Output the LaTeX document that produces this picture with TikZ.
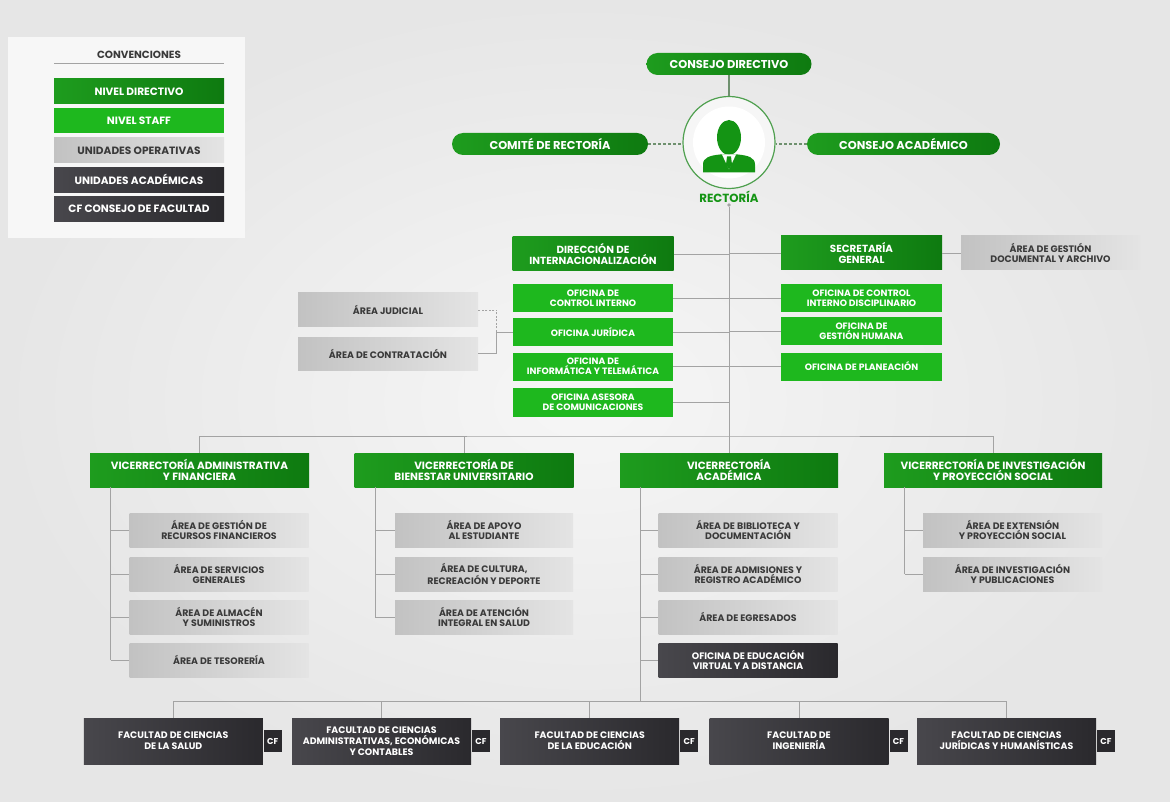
\documentclass[tikz,border=0pt]{standalone}
\usepackage{fontspec}
\setmainfont{Poppins}
\usetikzlibrary{positioning,shadings}

\definecolor{bgin}{HTML}{F6F6F6}
\definecolor{bgout}{HTML}{E6E6E6}
\definecolor{panel}{HTML}{F7F7F7}
\definecolor{dgreenL}{HTML}{1E9C1E}
\definecolor{dgreenR}{HTML}{0E7A10}
\definecolor{sgreen}{HTML}{1EB81E}
\definecolor{opL}{HTML}{C2C2C2}
\definecolor{opR}{HTML}{E4E4E4}
\definecolor{acL}{HTML}{48474C}
\definecolor{acR}{HTML}{2A292D}
\definecolor{optext}{HTML}{3A3A3A}
\definecolor{lnk}{HTML}{A3A3A3}
\definecolor{ring}{HTML}{4FA04F}
\definecolor{icon}{HTML}{149414}
\definecolor{topline}{HTML}{6E906E}

\begin{document}
\begin{tikzpicture}[x=1pt,y=-1pt]
\tikzstyle{box}=[rectangle, align=center, inner sep=1pt, font=\fontsize{9.4}{10.2}\selectfont\bfseries]
\tikzstyle{dirbox}=[box, left color=dgreenL, right color=dgreenR, text=white, minimum width=161pt, minimum height=34pt, font=\fontsize{10.3}{11}\selectfont\bfseries]
\tikzstyle{staffbox}=[box, fill=sgreen, text=white, minimum width=160pt, minimum height=28pt, font=\fontsize{9.2}{9.8}\selectfont\bfseries]
\tikzstyle{opbox}=[box, left color=opL, right color=opR, text=optext, minimum width=179pt, minimum height=34pt]
\tikzstyle{acbox}=[box, left color=acL, right color=acR, text=white, minimum width=179pt, minimum height=34pt]
\tikzstyle{vicebox}=[dirbox, font=\fontsize{10.5}{11}\selectfont\bfseries, minimum width=219pt]
\tikzstyle{facbox}=[acbox, font=\fontsize{9.4}{11.2}\selectfont\bfseries, minimum height=46pt]
\tikzstyle{cftab}=[box, fill=acR, text=white, minimum width=18pt, minimum height=22pt, inner sep=0pt, font=\fontsize{8.5}{9}\selectfont\bfseries]
\tikzstyle{pill}=[box, rounded corners=11pt, left color=dgreenL, right color=dgreenR, text=white, minimum width=165pt, minimum height=22pt, font=\fontsize{11.4}{12}\selectfont\bfseries]
\tikzstyle{legend}=[box, minimum width=170pt, minimum height=25pt, font=\fontsize{10.6}{11}\selectfont\bfseries]
\tikzstyle{link}=[draw=lnk, line width=0.8pt]
\tikzstyle{toplink}=[draw=topline, line width=1.4pt]

\useasboundingbox (0,0) rectangle (1170,802);
\shade[inner color=bgin, outer color=bgout] (0,0) rectangle (1170,802);

% convenciones
\fill[panel] (8,37) rectangle (245,238);
\node[box, font=\fontsize{10.4}{11}\selectfont\bfseries, text=optext] (conv) at (139,55) {CONVENCIONES};
\draw[draw=lnk, line width=1pt] (54,64) -- (224,64);
\node[legend, left color=dgreenL, right color=dgreenR, text=white] (lgdir) at (139,91.5) {NIVEL DIRECTIVO};
\node[legend, fill=sgreen, text=white, below=4pt of lgdir] (lgstaff) {NIVEL STAFF};
\node[legend, left color=opL, right color=opR, text=optext, below=4pt of lgstaff] (lgop) {UNIDADES OPERATIVAS};
\node[legend, left color=acL, right color=acR, text=white, below=4pt of lgop] (lgacad) {UNIDADES ACADÉMICAS};
\node[legend, left color=acL, right color=acR, text=white, below=4pt of lgacad] (lgcf) {CF CONSEJO DE FACULTAD};

% rectoria
\node[pill] (cdir) at (729,64) {CONSEJO DIRECTIVO};
\node[pill, minimum width=196pt] (crect) at (550,144) {COMITÉ DE RECTORÍA};
\node[pill, minimum width=193pt] (cacad) at (903.5,144) {CONSEJO ACADÉMICO};
\node[circle, draw=ring, line width=1.2pt, fill=bgin, minimum size=92pt] (rect) at (729,142.5) {};
\fill[white] (rect.center) circle (36pt);
\begin{scope}[shift={(rect.center)}]
\fill[icon] (0,-5) ellipse (12pt and 17.5pt);
\fill[icon] (-26,30) -- (-26,22) .. controls (-26,15) and (-19,13) .. (-9,12) -- (9,12) .. controls (19,13) and (26,15) .. (26,22) -- (26,30) -- cycle;
\fill[white] (-7,12) -- (7,12) -- (0,27) -- cycle;
\fill[icon] (-2,14) -- (2,14) -- (3,22) -- (0,27) -- (-3,22) -- cycle;
\end{scope}
\node[box, font=\fontsize{11.8}{12}\selectfont\bfseries, text=icon] (rlabel) at (729,197) {RECTORÍA};
\node[circle, fill=lnk, inner sep=1.4pt] (rdot) at (729,205) {};
\draw[toplink] (cdir) -- (rect);
\draw[toplink, dash pattern=on 3pt off 2pt] (crect.east) -- (crect.east -| rect.west);
\draw[toplink, dash pattern=on 3pt off 2pt] (cacad.west) -- (cacad.west -| rect.east);

% nivel directivo y staff
\node[dirbox] (dint) at (593,254) {DIRECCIÓN DE\\INTERNACIONALIZACIÓN};
\node[dirbox] (sgen) at (861.5,253) {SECRETARÍA\\GENERAL};
\node[opbox] (agda) at (1050.5,253) {ÁREA DE GESTIÓN\\DOCUMENTAL Y ARCHIVO};
\node[staffbox] (ocint) at (593,298) {OFICINA DE\\CONTROL INTERNO};
\node[staffbox] (ojur) at (593,332) {OFICINA JURÍDICA};
\node[staffbox] (oinf) at (593,366.5) {OFICINA DE\\INFORMÁTICA Y TELEMÁTICA};
\node[staffbox, minimum height=29pt] (oase) at (593,402.5) {OFICINA ASESORA\\DE COMUNICACIONES};
\node[staffbox, minimum width=161pt] (ocid) at (861.5,298) {OFICINA DE CONTROL\\INTERNO DISCIPLINARIO};
\node[staffbox, minimum width=161pt] (oghu) at (861.5,331) {OFICINA DE\\GESTIÓN HUMANA};
\node[staffbox, minimum width=161pt] (opla) at (861.5,366.5) {OFICINA DE PLANEACIÓN};
\node[opbox, minimum width=180pt] (ajud) at (388,310) {ÁREA JUDICIAL};
\node[opbox, minimum width=180pt, minimum height=33pt] (acont) at (388,353.5) {ÁREA DE CONTRATACIÓN};

\foreach \b in {dint,ocint,ojur,oinf,oase}
  \draw[link] (\b.east) -- (\b.east -| rdot);
\foreach \b in {sgen,ocid,oghu,opla}
  \draw[link] (\b.west) -- (\b.west -| rdot);
\draw[link] (sgen) -- (agda);
\coordinate (jurL) at ([xshift=-16pt]ojur.west);
\draw[link] (ojur.west) -- (jurL) |- (acont.east);
\draw[link, dash pattern=on 2pt off 1.5pt] (jurL) |- (ajud.east);

% vicerrectorias
\node[vicebox] (vadm) at (199.5,470) {VICERRECTORÍA ADMINISTRATIVA\\Y FINANCIERA};
\node[vicebox] (vbie) at (464,470) {VICERRECTORÍA DE\\BIENESTAR UNIVERSITARIO};
\node[vicebox, minimum width=218pt] (vaca) at (729,470) {VICERRECTORÍA\\ACADÉMICA};
\node[vicebox, minimum width=218pt] (vinv) at (993,470) {VICERRECTORÍA DE INVESTIGACIÓN\\Y PROYECCIÓN SOCIAL};
\draw[link] (rdot) -- (vaca.north);
\coordinate (vbus) at (729,436);
\draw[link] (vadm.north) |- (vbus) -| (vinv.north);
\draw[link] (vbie.north) -- (vbie.north |- vbus);

\node[opbox] (agrf) at (219,530) {ÁREA DE GESTIÓN DE\\RECURSOS FINANCIEROS};
\node[opbox] (aserv) at (219,574) {ÁREA DE SERVICIOS\\GENERALES};
\node[opbox] (aalm) at (219,617) {ÁREA DE ALMACÉN\\Y SUMINISTROS};
\node[opbox] (ates) at (219,660) {ÁREA DE TESORERÍA};
\node[opbox, minimum width=178pt] (aapo) at (484,530) {ÁREA DE APOYO\\AL ESTUDIANTE};
\node[opbox, minimum width=178pt] (acul) at (484,574) {ÁREA DE CULTURA,\\RECREACIÓN Y DEPORTE};
\node[opbox, minimum width=178pt] (aate) at (484,617) {ÁREA DE ATENCIÓN\\INTEGRAL EN SALUD};
\node[opbox] (abib) at (748,530) {ÁREA DE BIBLIOTECA Y\\DOCUMENTACIÓN};
\node[opbox] (aadm) at (748,574) {ÁREA DE ADMISIONES Y\\REGISTRO ACADÉMICO};
\node[opbox] (aegr) at (748,617) {ÁREA DE EGRESADOS};
\node[acbox] (oedu) at (748,660) {OFICINA DE EDUCACIÓN\\VIRTUAL Y A DISTANCIA};
\node[opbox] (aext) at (1012.5,530) {ÁREA DE EXTENSIÓN\\Y PROYECCIÓN SOCIAL};
\node[opbox] (ainv) at (1012.5,574) {ÁREA DE INVESTIGACIÓN\\Y PUBLICACIONES};

\coordinate (vadmL) at ([xshift=21pt]vadm.south west);
\coordinate (vbieL) at ([xshift=21pt]vbie.south west);
\coordinate (vacaL) at ([xshift=21pt]vaca.south west);
\coordinate (vinvL) at ([xshift=21pt]vinv.south west);
\draw[link] (vadmL) -- (vadmL |- ates.west);
\foreach \b in {agrf,aserv,aalm,ates}
  \draw[link] (vadmL |- \b.west) -- (\b.west);
\draw[link] (vbieL) -- (vbieL |- aate.west);
\foreach \b in {aapo,acul,aate}
  \draw[link] (vbieL |- \b.west) -- (\b.west);
\foreach \b in {abib,aadm,aegr,oedu}
  \draw[link] (vacaL |- \b.west) -- (\b.west);
\draw[link] (vinvL) -- (vinvL |- ainv.west);
\foreach \b in {aext,ainv}
  \draw[link] (vinvL |- \b.west) -- (\b.west);

% facultades
\node[facbox] (fsal) at (173.3,741) {FACULTAD DE CIENCIAS\\DE LA SALUD};
\node[facbox] (fadm) at (381.5,741) {FACULTAD DE CIENCIAS\\ADMINISTRATIVAS, ECONÓMICAS\\Y CONTABLES};
\node[facbox] (fedu) at (589.7,741) {FACULTAD DE CIENCIAS\\DE LA EDUCACIÓN};
\node[facbox] (fing) at (799,741) {FACULTAD DE\\INGENIERÍA};
\node[facbox] (fjur) at (1006.5,741) {FACULTAD DE CIENCIAS\\JURÍDICAS Y HUMANÍSTICAS};
\foreach \f in {fsal,fadm,fedu,fing,fjur}
  \node[cftab, right=0.6pt of \f] (\f cf) {CF};
\path (fsal.north) ++(0,-16) coordinate (fbase);
\coordinate (fbus) at (vacaL |- fbase);
\draw[link] (vacaL) -- (fbus);
\draw[link] (fsal.north) |- (fbus) -| (fjur.north);
\foreach \f in {fadm,fedu,fing}
  \draw[link] (\f.north) -- (\f.north |- fbus);
\end{tikzpicture}
\end{document}
